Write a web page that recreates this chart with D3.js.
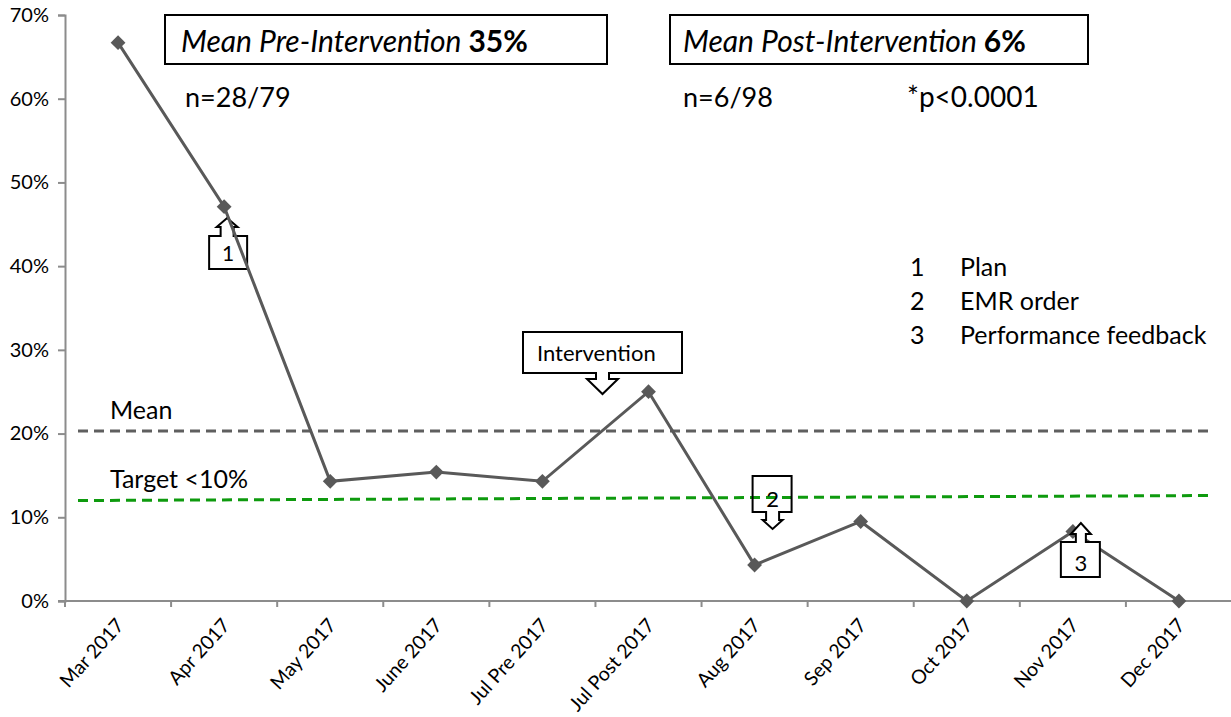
<!DOCTYPE html>
<html>
<head>
<meta charset="utf-8">
<script src="https://cdn.jsdelivr.net/npm/d3@7"></script>
<style>
  body { margin: 0; background: #fff; }
  text { font-family: Lato, "Open Sans", sans-serif; fill: #000; }
</style>
</head>
<body>
<div id="chart"></div>
<script>
// categories and monthly rates (fraction)
var months = ["Mar 2017", "Apr 2017", "May 2017", "June 2017", "Jul Pre 2017",
  "Jul Post 2017", "Aug 2017", "Sep 2017", "Oct 2017", "Nov 2017", "Dec 2017"];
var rates = [0.667, 0.471, 0.143, 0.154, 0.143, 0.25, 0.043, 0.095, 0, 0.083, 0];
var yTicks = [0, 0.1, 0.2, 0.3, 0.4, 0.5, 0.6, 0.7];

// reference lines
var meanRate = 0.203;
var targetStart = 0.12, targetEnd = 0.126;

// legend of interventions
var legendNums = ["1", "2", "3"];
var legendText = ["Plan", "EMR order", "Performance feedback"];

var width = 1231, height = 717;

var svg = d3.select("#chart").append("svg")
  .attr("width", width)
  .attr("height", height);

var x = d3.scaleBand().domain(months).range([65, 1232]);
var y = d3.scaleLinear().domain([0, 0.7]).range([601, 15]);

// y axis
var yAxis = svg.append("g")
  .attr("transform", "translate(65,0)")
  .call(d3.axisLeft(y).tickValues(yTicks).tickFormat(d3.format(".0%")).tickSize(7).tickPadding(9));
yAxis.select(".domain").attr("stroke", "#8c8c8c").attr("stroke-width", 2);
yAxis.selectAll(".tick line").attr("stroke", "#8c8c8c").attr("stroke-width", 2);
yAxis.selectAll(".tick text").style("font-size", "20px").attr("fill", "#000");

// x axis with ticks between categories
var xAxis = svg.append("g").attr("transform", "translate(0,601)");
xAxis.append("line")
  .attr("x1", 58).attr("x2", 1232)
  .attr("stroke", "#8c8c8c").attr("stroke-width", 2);
xAxis.selectAll(".xtick")
  .data(months)
  .enter().append("line")
  .attr("x1", function(d) { return x(d); })
  .attr("x2", function(d) { return x(d); })
  .attr("y1", 0).attr("y2", 6)
  .attr("stroke", "#8c8c8c").attr("stroke-width", 2);
xAxis.selectAll(".xlabel")
  .data(months)
  .enter().append("text")
  .attr("transform", function(d) {
    return "translate(" + (x(d) + x.bandwidth() / 2 + 7) + ",25) rotate(-48)";
  })
  .attr("text-anchor", "end")
  .style("font-size", "19.5px")
  .text(function(d) { return d; });

// mean line
svg.append("line")
  .attr("x1", 78).attr("x2", 1210)
  .attr("y1", y(meanRate)).attr("y2", y(meanRate))
  .attr("stroke", "#5f5f5f").attr("stroke-width", 3)
  .attr("stroke-dasharray", "10,6");
svg.append("text").attr("x", 110).attr("y", 419)
  .style("font-size", "25px").text("Mean");

// target line
svg.append("line")
  .attr("x1", 78).attr("x2", 1213)
  .attr("y1", y(targetStart)).attr("y2", y(targetEnd))
  .attr("stroke", "#0e9a0e").attr("stroke-width", 3)
  .attr("stroke-dasharray", "10,6");
svg.append("text").attr("x", 110).attr("y", 488)
  .style("font-size", "25px").text("Target <10%");

// callout shapes: box with an arrow on top (up) or bottom (down)
function callout(x0, x1, y0, y1, ax, dir, sh, hh, stem, head) {
  var p = d3.path();
  if (dir === "up") {
    p.moveTo(x0, y0);
    p.lineTo(ax - sh, y0); p.lineTo(ax - sh, y0 - stem); p.lineTo(ax - hh, y0 - stem);
    p.lineTo(ax, y0 - stem - head);
    p.lineTo(ax + hh, y0 - stem); p.lineTo(ax + sh, y0 - stem); p.lineTo(ax + sh, y0);
    p.lineTo(x1, y0); p.lineTo(x1, y1); p.lineTo(x0, y1); p.closePath();
  } else {
    p.moveTo(x0, y0); p.lineTo(x1, y0); p.lineTo(x1, y1);
    p.lineTo(ax + sh, y1); p.lineTo(ax + sh, y1 + stem); p.lineTo(ax + hh, y1 + stem);
    p.lineTo(ax, y1 + stem + head);
    p.lineTo(ax - hh, y1 + stem); p.lineTo(ax - sh, y1 + stem); p.lineTo(ax - sh, y1);
    p.lineTo(x0, y1); p.closePath();
  }
  return p.toString();
}

function center(m) { return x(m) + x.bandwidth() / 2; }

var under = svg.append("g");
// the data line
var line = d3.line()
  .x(function(d, i) { return center(months[i]); })
  .y(function(d) { return y(d); });

// callout 1 (under line)
var c1 = center("Apr 2017") + 3;
under.append("path")
  .attr("d", callout(c1 - 18, c1 + 20, 236, 269, c1, "up", 6.5, 10.5, 9, 9))
  .attr("fill", "#fff").attr("stroke", "#000").attr("stroke-width", 2);
under.append("text").attr("x", c1 + 1).attr("y", 261).attr("text-anchor", "middle")
  .style("font-size", "21px").text("1");

// callout 2
var c2 = center("Aug 2017") + 18;
under.append("path")
  .attr("d", callout(c2 - 20, c2 + 19, 476, 512, c2, "down", 6.5, 10, 8, 9))
  .attr("fill", "none").attr("stroke", "#000").attr("stroke-width", 2);
under.append("text").attr("x", c2).attr("y", 507).attr("text-anchor", "middle")
  .style("font-size", "22px").text("2");

svg.append("path")
  .datum(rates)
  .attr("d", line)
  .attr("fill", "none")
  .attr("stroke", "#595959")
  .attr("stroke-width", 3);

svg.selectAll(".pt")
  .data(rates)
  .enter().append("path")
  .attr("d", d3.symbol().type(d3.symbolDiamond2).size(140))
  .attr("transform", function(d, i) {
    return "translate(" + center(months[i]) + "," + y(d) + ")";
  })
  .attr("fill", "#595959");

// intervention callout
var ci = center("Jul Post 2017") - 46;
svg.append("path")
  .attr("d", callout(523, 682, 332, 373, ci, "down", 6.5, 15.5, 6, 15))
  .attr("fill", "#fff").attr("stroke", "#000").attr("stroke-width", 2);
svg.append("text").attr("x", 537).attr("y", 361)
  .style("font-size", "22px").text("Intervention");

// callout 3 (over line)
var c3 = center("Nov 2017") + 8;
svg.append("path")
  .attr("d", callout(c3 - 20, c3 + 19, 542, 577, c3, "up", 5, 10, 8, 11))
  .attr("fill", "#fff").attr("stroke", "#000").attr("stroke-width", 2);
svg.append("text").attr("x", c3).attr("y", 571).attr("text-anchor", "middle")
  .style("font-size", "22px").text("3");

// header boxes
svg.append("rect").attr("x", 165).attr("y", 15).attr("width", 442).attr("height", 49)
  .attr("fill", "none").attr("stroke", "#000").attr("stroke-width", 2);
var t1 = svg.append("text").attr("x", 181).attr("y", 52).style("font-size", "30px");
t1.append("tspan").style("font-style", "italic").text("Mean Pre-Intervention ");
t1.append("tspan").style("font-weight", "bold").text("35%");

svg.append("rect").attr("x", 670).attr("y", 15).attr("width", 418).attr("height", 49)
  .attr("fill", "none").attr("stroke", "#000").attr("stroke-width", 2);
var t2 = svg.append("text").attr("x", 683).attr("y", 52).style("font-size", "30px");
t2.append("tspan").style("font-style", "italic").text("Mean Post-Intervention ");
t2.append("tspan").style("font-weight", "bold").text("6%");

svg.append("text").attr("x", 185).attr("y", 107).style("font-size", "27px").text("n=28/79");
svg.append("text").attr("x", 683).attr("y", 107).style("font-size", "27px").text("n=6/98");
svg.append("text").attr("x", 907).attr("y", 107).style("font-size", "28px").text("*p<0.0001");

// legend
var lg = svg.selectAll(".lg")
  .data(legendNums)
  .enter().append("g")
  .attr("transform", function(d, i) { return "translate(910," + (276 + i * 34) + ")"; });
lg.append("text").style("font-size", "25px").text(function(d) { return d; });
lg.append("text").attr("x", 50).style("font-size", "25px")
  .text(function(d, i) { return legendText[i]; });
</script>
</body>
</html>
